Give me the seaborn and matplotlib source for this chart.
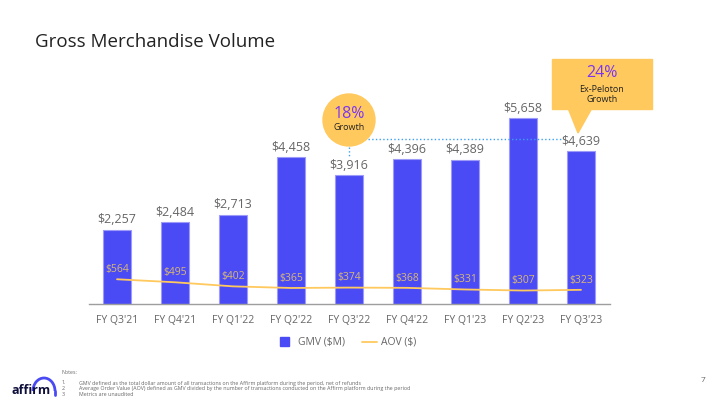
import numpy as np
import pandas as pd
import seaborn as sns
import matplotlib.pyplot as plt
from matplotlib.patches import Circle, Polygon, Rectangle, Arc

# Data
quarters = ["FY Q3'21", "FY Q4'21", "FY Q1'22", "FY Q2'22", "FY Q3'22",
            "FY Q4'22", "FY Q1'23", "FY Q2'23", "FY Q3'23"]
gmv = [2257, 2484, 2713, 4458, 3916, 4396, 4389, 5658, 4639]
aov = [564, 495, 402, 365, 374, 368, 331, 307, 323]

notes = [
    "GMV defined as the total dollar amount of all transactions on the Affirm platform during the period, net of refunds",
    "Average Order Value (AOV) defined as GMV divided by the number of transactions conducted on the Affirm platform during the period",
    "Metrics are unaudited",
]

BLUE = '#4B4BF5'
GOLD = '#FFC95E'
PURPLE = '#7B35F2'
GRAY = '#666666'

sns.set_style('white')
plt.rcParams['font.family'] = ['Open Sans', 'DejaVu Sans']

df = pd.DataFrame({'quarter': quarters, 'gmv': gmv, 'aov': aov})

W, H = 720, 405
fig = plt.figure(figsize=(7.2, 4.05), dpi=100)

# main axes placed in pixel space of the slide
left, right, bottom, top = 89, 610, 304, 100
ax = fig.add_axes([left / W, 1 - bottom / H, (right - left) / W, (bottom - top) / H])

sns.barplot(data=df, x='quarter', y='gmv', color=BLUE, width=0.48,
            edgecolor='#9C9CF8', linewidth=0.8, saturation=1, ax=ax, zorder=2)
ax.set_xlim(-0.483, 8.5)
ax.set_ylim(0, 6200)
for i, v in enumerate(gmv):
    ax.text(i, v + 100, '${:,}'.format(v), ha='center', va='bottom',
            fontsize=9, color=GRAY)

ax2 = ax.twinx()
sns.lineplot(x=np.arange(len(aov)), y=aov, color=GOLD, linewidth=1.3, ax=ax2, zorder=3)
ax2.set_ylim(0, 4650)
for i, v in enumerate(aov):
    ax2.text(i, v + 95, '${}'.format(v), ha='center', va='bottom',
             fontsize=7.5, color='#D9B873')

for a in (ax, ax2):
    a.set_xlabel('')
    a.set_ylabel('')
    a.set_yticks([])
    for s in ['top', 'right', 'left']:
        a.spines[s].set_visible(False)
ax2.spines['bottom'].set_visible(False)
ax.spines['bottom'].set_color('#9E9E9E')
ax.spines['bottom'].set_linewidth(1)
ax.tick_params(axis='x', length=0, pad=8, labelsize=7.5, labelcolor=GRAY)
ax2.set_xlim(ax.get_xlim())

# overlay in slide pixel coords for decorations
ov = fig.add_axes([0, 0, 1, 1], zorder=5)
ov.set_xlim(0, W)
ov.set_ylim(H, 0)
ov.axis('off')

ov.text(35, 42, 'Gross Merchandise Volume', fontsize=13.5, color='#222222',
        ha='left', va='center')

# 18% growth bubble
ov.add_patch(Circle((349, 120), 26, color=GOLD, zorder=2))
ov.text(349, 114, '18%', ha='center', va='center', fontsize=11.5, color=PURPLE, zorder=3)
ov.text(349, 127, 'Growth', ha='center', va='center', fontsize=6.5, color='#222222', zorder=3)
ov.plot([349, 349], [147, 157], ls=':', color='#3BA0F5', lw=1)
ov.plot([368, 562], [139, 139], ls=':', color='#3BA0F5', lw=1)

# 24% ex-peloton callout
ov.add_patch(Rectangle((552, 59), 100, 50, color=GOLD, zorder=2))
ov.add_patch(Polygon([(568, 108), (592, 108), (578, 133)], closed=True, color=GOLD, zorder=2))
ov.text(602, 73, '24%', ha='center', va='center', fontsize=11.5, color=PURPLE, zorder=3)
ov.text(602, 89, 'Ex-Peloton', ha='center', va='center', fontsize=6.5, color='#222222', zorder=3)
ov.text(602, 100, 'Growth', ha='center', va='center', fontsize=6.5, color='#222222', zorder=3)

# legend
ov.add_patch(Rectangle((280, 337), 9, 9, color=BLUE))
ov.text(298, 342, 'GMV ($M)', ha='left', va='center', fontsize=7.5, color=GRAY)
ov.plot([362, 377], [342, 342], color=GOLD, lw=1.3)
ov.text(381, 342, 'AOV ($)', ha='left', va='center', fontsize=7.5, color=GRAY)

# footer notes
ov.text(62, 373, 'Notes:', fontsize=3.8, color=GRAY, va='center')
for k, n in enumerate(notes):
    y = 383 + 5.5 * k
    ov.text(62, y, '{}.'.format(k + 1), fontsize=3.8, color=GRAY, va='center')
    ov.text(79, y, n, fontsize=3.8, color=GRAY, va='center')

# affirm wordmark (y axis of overlay is flipped, so the upper arc is 180-360)
ov.text(12, 391, 'affirm', fontsize=9, fontweight='bold', color='#0F0F3C',
        ha='left', va='center')
ov.add_patch(Arc((44, 391), 22, 26, theta1=180, theta2=360, color='#4A4AF4', lw=2))
ov.plot([55, 55], [391, 395], color='#4A4AF4', lw=2)

ov.text(703, 381, '7', fontsize=6, color=GRAY, ha='center', va='center')

fig.savefig('out.png', dpi=100)
